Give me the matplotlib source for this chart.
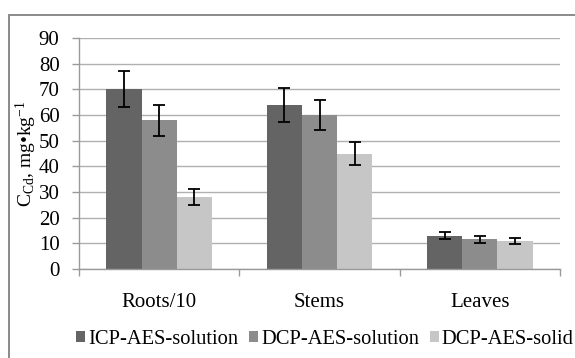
import numpy as np
import matplotlib
matplotlib.use('agg')
from matplotlib import pyplot as plt
from matplotlib.patches import Rectangle
plt.rc('font', family=['Liberation Serif', 'DejaVu Serif'])
plt.rc('mathtext', fontset='custom', rm='Liberation Serif',
       it='Liberation Serif', bf='Liberation Serif')

# data
categories = ['Roots/10', 'Stems', 'Leaves']
series = ['ICP-AES-solution', 'DCP-AES-solution', 'DCP-AES-solid']
icp_sol = [70, 64, 13]
dcp_sol = [58, 60, 11.5]
dcp_solid = [28, 45, 11]
icp_err = [7, 6.7, 1.4]
dcp_err = [6, 6, 1.4]
solid_err = [3, 4.6, 1.2]
yticks = list(range(0, 91, 10))

colors = ['#646464', '#8c8c8c', '#c6c6c6']

fig = plt.figure(figsize=(5.75, 3.58), dpi=100)
ax = fig.add_axes([79 / 575, 1 - 269 / 358, (560 - 79) / 575, (269 - 38) / 358])

# outer chart border (only top/left visible in the crop)
fig.patches.append(Rectangle((8.5 / 575, -0.2), 1.2, 1 - 14.5 / 358 + 0.2,
                             transform=fig.transFigure, fill=False,
                             edgecolor='#8a8a8a', lw=1.4, zorder=0))

x = np.arange(len(categories))
w = 0.22
for i, (vals, errs) in enumerate(zip([icp_sol, dcp_sol, dcp_solid],
                                     [icp_err, dcp_err, solid_err])):
    ax.bar(x + (i - 1) * w, vals, w, color=colors[i], label=series[i], zorder=2)
    ax.errorbar(x + (i - 1) * w, vals, yerr=errs, fmt='none', ecolor='black',
                elinewidth=1.3, capsize=4, capthick=1.3, zorder=3)

ax.set_xlim(-0.5, len(categories) - 0.5)
ax.set_ylim(0, 90)
ax.set_yticks(yticks)
ax.set_xticks(x)
ax.set_xticklabels(categories)
ax.set_xticks(np.arange(len(categories) + 1) - 0.5, minor=True)
ax.tick_params(axis='x', which='major', length=0, pad=17, labelsize=15)
ax.tick_params(axis='x', which='minor', length=5, color='#9a9a9a', width=1)
ax.tick_params(axis='y', length=5, color='#9a9a9a', width=1, labelsize=15, pad=9)
ax.grid(axis='y', color='#b0b0b0', lw=1, zorder=0)
ax.set_axisbelow(True)
for s in ['top', 'right']:
    ax.spines[s].set_visible(False)
for s in ['left', 'bottom']:
    ax.spines[s].set_color('#9a9a9a')
    ax.spines[s].set_linewidth(1)

ax.set_ylabel(r'C$_{\mathrm{Cd}}$, mg•kg$^{-1}$', fontsize=14, labelpad=0)

fig.legend(loc='center', bbox_to_anchor=(325 / 575, 1 - 339 / 358), ncol=3,
           frameon=False, fontsize=14.8, handlelength=0.45, handleheight=0.45,
           handletextpad=0.15, columnspacing=0.5)

fig.savefig('out.png', dpi=100)
